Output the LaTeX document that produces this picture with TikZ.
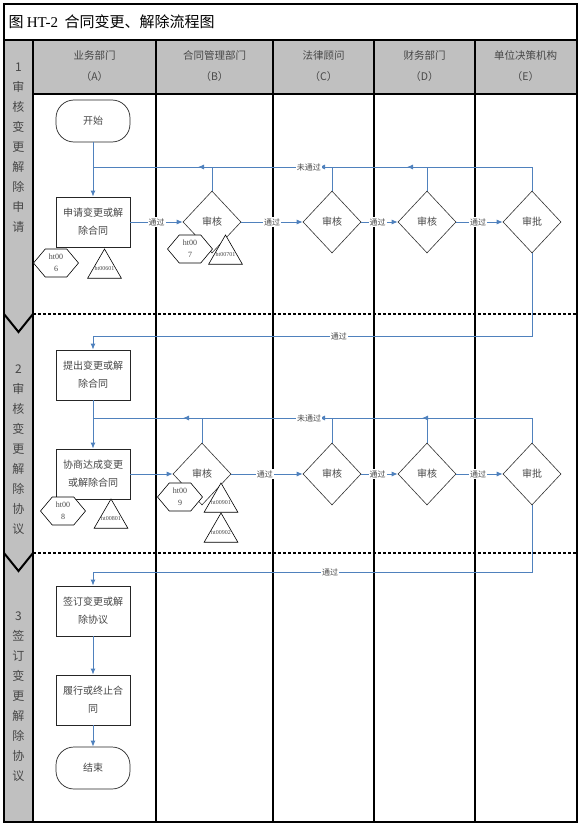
\documentclass[tikz,border=0pt]{standalone}
\usepackage{fontspec}
\setmainfont{Noto Sans CJK SC}
\newfontfamily\latinrm{Liberation Serif}
\usepackage{tikz}
\usetikzlibrary{positioning,arrows.meta,calc,shapes.geometric,shapes.symbols}
\definecolor{lanegray}{HTML}{C0C0C0}
\definecolor{flowblue}{HTML}{4F81BD}
\definecolor{txtgray}{HTML}{474747}

\begin{document}
\begin{tikzpicture}[x=1pt,y=-1pt,>=Latex,font=\fontsize{10}{18}\selectfont]
  \tikzstyle{box}=[draw=black!85,line width=0.9pt,fill=white,text=txtgray,align=center,minimum width=74pt,minimum height=50pt,inner sep=1pt]
  \tikzstyle{term}=[draw=black!85,line width=0.7pt,rounded corners=18pt,text=txtgray,minimum width=74pt,minimum height=42pt]
  \tikzstyle{dia}=[draw=black!80,line width=0.6pt,diamond,fill=white,text=txtgray,minimum width=58pt,minimum height=62pt,inner sep=0pt]
  \tikzstyle{hexa}=[draw=black,line width=0.6pt,fill=white,signal,signal to=east and west,signal pointer angle=100,minimum width=45pt,minimum height=28pt,inner sep=1pt,align=center,text=txtgray,font=\latinrm\fontsize{8}{12}\selectfont]
  \tikzstyle{tri}=[draw=black,line width=0.6pt,fill=white,regular polygon,regular polygon sides=3,minimum size=39pt,inner sep=0pt,text=txtgray,font=\latinrm\fontsize{6}{6}\selectfont]
  \tikzstyle{flow}=[draw=flowblue,line width=0.9pt,-{Latex[length=6pt,width=5pt]}]
  \tikzstyle{retline}=[draw=flowblue,line width=0.8pt]
  \tikzstyle{lbl}=[fill=white,inner sep=1pt,text=txtgray,font=\fontsize{8}{8}\selectfont]
  \tikzstyle{lane}=[line width=1.3pt,black]
  \tikzstyle{lanehead}=[align=center,text=txtgray,font=\fontsize{10.5}{21}\selectfont]
  \tikzstyle{phasetxt}=[align=center,text=txtgray,font=\fontsize{12}{20}\selectfont]
  \tikzstyle{phasecut}=[line width=2.2pt,dash pattern=on 3pt off 2pt]
  \useasboundingbox (0,0) rectangle (580,824);
  % frame, header, lanes
  \fill[lanegray] (33,40) rectangle (577,94);
  \fill[lanegray] (4,40) rectangle (33,822);
  \draw[lane] (4,4) rectangle (577,822);
  \draw[lane] (4,40) -- (577,40);
  \draw[lane] (33,94) -- (577,94);
  \foreach \x in {4,33,156,273,374,475} \draw[lane] (\x,40) -- (\x,822);
  \node[anchor=west,font=\fontsize{15}{15}\selectfont] (title) at (5,22) {图 {\latinrm HT-2}\ \ 合同变更、解除流程图};
  \node[lanehead] (ha) at (94.5,66) {业务部门\\（A）};
  \node[lanehead] (hb) at (214.5,66) {合同管理部门\\（B）};
  \node[lanehead] (hc) at (323.5,66) {法律顾问\\（C）};
  \node[lanehead] (hd) at (424.5,66) {财务部门\\（D）};
  \node[lanehead] (he) at (525.5,66) {单位决策机构\\（E）};
  % phases
  \node[phasetxt] (p1) at (18.5,148) {1\\审\\核\\变\\更\\解\\除\\申\\请};
  \node[phasetxt] (p2) at (18.5,450) {2\\审\\核\\变\\更\\解\\除\\协\\议};
  \node[phasetxt] (p3) at (18.5,697) {3\\签\\订\\变\\更\\解\\除\\协\\议};
  \foreach \y in {314,553} {
    \draw[phasecut] (33,\y) -- (577,\y);
    \draw[line width=2pt] (4,\y) -- (18.5,\y+18) -- (33,\y);
  }
  % phase 1
  \node[term] (start) at (93,121) {开始};
  \node[box] (req) at (93,222) {申请变更或解\\除合同};
  \node[dia] (b1) at (212,222) {审核};
  \node[dia] (c1) at (332,222) {审核};
  \node[dia] (d1) at (427,222) {审核};
  \node[dia] (e1) at (532,222) {审批};
  \node[hexa] (h6) at (56,263) {ht00\\6};
  \node[tri] (t6) at (104.5,268.5) {\makebox[0pt]{ht00601}};
  \node[hexa] (h7) at (190,249) {ht00\\7};
  \node[tri] (t7) at (225.5,254.5) {\makebox[0pt]{ht00701}};
  \coordinate (j1) at (93,167);
  \draw[flow] (start) -- (req);
  \draw[flow] (req) -- node[lbl]{通过} (b1);
  \draw[flow] (b1) -- node[lbl]{通过} (c1);
  \draw[flow] (c1) -- node[lbl,pos=0.45]{通过} (d1);
  \draw[flow] (d1) -- node[lbl,pos=0.47]{通过} (e1);
  % not passed, back to A
  \draw[flow] (e1.north) |- (407,167);
  \draw[flow] (d1.north) |- (319,167);
  \draw[flow] (c1.north) |- node[lbl,pos=0.586]{未通过} (198,167);
  \draw[retline] (b1.north) |- (j1);
  % phase 2
  \node[box] (prop) at (93,375) {提出变更或解\\除合同};
  \node[box] (agree) at (93,474) {协商达成变更\\或解除合同};
  \node[dia] (b2) at (202,474) {审核};
  \node[dia] (c2) at (332,474) {审核};
  \node[dia] (d2) at (427,474) {审核};
  \node[dia] (e2) at (532,474) {审批};
  \node[hexa] (h8) at (63,511) {ht00\\8};
  \node[tri] (t8) at (111,518.5) {\makebox[0pt]{ht00801}};
  \node[hexa] (h9) at (180,497) {ht00\\9};
  \node[tri] (t91) at (221,502.5) {\makebox[0pt]{ht00901}};
  \node[tri] (t92) at (221,532.5) {\makebox[0pt]{ht00902}};
  \coordinate (k1) at (93,336);
  \coordinate (j2) at (93,418);
  \draw[flow] (e1.south) |- node[lbl,pos=0.72]{通过} (k1) -- (prop.north);
  \draw[flow] (prop) -- (agree);
  \draw[flow] (agree) -- (b2);
  \draw[flow] (b2) -- node[lbl,pos=0.47]{通过} (c2);
  \draw[flow] (c2) -- node[lbl,pos=0.45]{通过} (d2);
  \draw[flow] (d2) -- node[lbl,pos=0.47]{通过} (e2);
  \draw[flow] (e2.north) |- (422,418);
  \draw[flow] (d2.north) |- (319,418);
  \draw[flow] (c2.north) |- node[lbl,pos=0.577]{未通过} (183,418);
  \draw[retline] (b2.north) |- (j2);
  % phase 3
  \node[box] (sign) at (93,611) {签订变更或解\\除协议};
  \node[box] (exec) at (93,700) {履行或终止合\\同};
  \node[term] (stop) at (93,768) {结束};
  \coordinate (k2) at (93,572);
  \draw[flow] (e2.south) |- node[lbl,pos=0.73]{通过} (k2) -- (sign.north);
  \draw[flow] (sign) -- (exec);
  \draw[flow] (exec) -- (stop);
\end{tikzpicture}
\end{document}
